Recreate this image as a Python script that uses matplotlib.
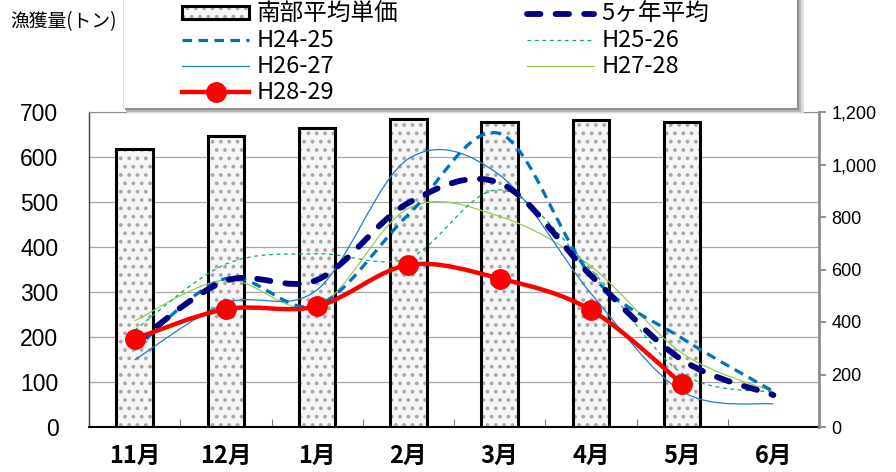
import matplotlib
matplotlib.use('Agg')
import matplotlib.pyplot as plt
import numpy as np
from matplotlib.path import Path
from matplotlib.patches import PathPatch, Rectangle, Patch
from matplotlib.lines import Line2D
from matplotlib.legend_handler import HandlerTuple
from matplotlib.ticker import FuncFormatter, FixedLocator

JP = ['Noto Sans CJK JP', 'DejaVu Sans']
NUM = ['Liberation Sans', 'DejaVu Sans']

# ---------------- data ----------------
months = ['11月', '12月', '1月', '2月', '3月', '4月', '5月', '6月']
price = [1059, 1109, 1139, 1172, 1162, 1168, 1162]          # 南部平均単価 (right axis)
avg5 = [185, 325, 327, 498, 542, 337, 149, 71]              # 5ヶ年平均
h24_25 = [172, 330, 270, 472, 652, 338, 197, 79]
h25_26 = [215, 362, 385, 375, 527, 350, 119, 77]
h26_27 = [149, 275, 305, 596, 560, 297, 79, 51]
h27_28 = [236, 327, 268, 486, 468, 357, 164, 78]
h28_29 = [196, 262, 268, 360, 330, 260, 96]

left_ticks = [0, 100, 200, 300, 400, 500, 600, 700]
right_ticks = [0, 200, 400, 600, 800, 1000, 1200]


def smooth_path(xs, ys):
    pts = np.column_stack([xs, ys]).astype(float)
    n = len(pts)
    verts = [pts[0]]
    codes = [Path.MOVETO]
    for i in range(n - 1):
        p0 = pts[i - 1] if i > 0 else pts[i]
        p1 = pts[i]
        p2 = pts[i + 1]
        p3 = pts[i + 2] if i + 2 < n else pts[i + 1]
        c1 = p1 + (p2 - p0) / 6.0
        c2 = p2 - (p3 - p1) / 6.0
        verts += [c1, c2, p2]
        codes += [Path.CURVE4] * 3
    return Path(verts, codes)


fig = plt.figure(figsize=(8.96, 4.72), dpi=100)
pos = [89 / 896, 1 - 427 / 472, (819 - 89) / 896, (427 - 112) / 472]
ax1 = fig.add_axes(pos)
ax2 = ax1.twinx()
ax3 = fig.add_axes(pos, sharex=ax1, sharey=ax1)
ax3.set_zorder(2)
ax3.patch.set_visible(False)
ax3.axis('off')

x_all = np.arange(len(months))

# ---------------- left axis ----------------
ax1.set_xlim(-0.5, len(months) - 0.5)
ax1.set_ylim(0, 700)
ax1.set_yticks(left_ticks)
ax1.yaxis.grid(True, color='#a6a6a6', lw=0.9)
ax1.set_axisbelow(True)
ax1.tick_params(axis='y', length=0, pad=22, labelsize=16.5)
for lab in ax1.get_yticklabels():
    lab.set_family(NUM)
ax1.set_xticks(x_all)
ax1.set_xticklabels(months, fontfamily=JP, fontsize=17, fontweight='bold')
ax1.xaxis.set_minor_locator(FixedLocator(np.arange(-0.5, len(months), 1.0)))
ax1.tick_params(axis='x', which='major', length=0, pad=12)
ax1.tick_params(axis='x', which='minor', direction='in', length=6, color='#808080', width=0.8)
ax1.spines['left'].set_color('#404040')
ax1.spines['left'].set_linewidth(1.0)
ax1.spines['top'].set_color('#909090')
ax1.spines['bottom'].set_color('black')
ax1.spines['bottom'].set_linewidth(1.5)
ax1.spines['right'].set_visible(False)

# ---------------- right axis (bars) ----------------
ax2.set_ylim(0, 1200)
ax2.set_yticks(right_ticks)
ax2.yaxis.set_major_formatter(FuncFormatter(lambda v, p: f'{int(v):,}'))
ax2.tick_params(axis='y', direction='out', length=5, color='#808080', width=1.2,
                labelsize=13, pad=4)
for lab in ax2.get_yticklabels():
    lab.set_family(NUM)
ax2.spines['right'].set_color('#8c8c8c')
ax2.spines['right'].set_linewidth(2.0)
for s in ['left', 'top', 'bottom']:
    ax2.spines[s].set_visible(False)

plt.rcParams['hatch.linewidth'] = 1.5
xb = np.arange(len(price))
ax2.bar(xb, price, width=0.4, color='#f6f6f6', edgecolor='#a8a8a8', linewidth=0,
        hatch='..', zorder=2)
ax2.bar(xb, price, width=0.4, fill=False, edgecolor='black', linewidth=2.2, zorder=3)

# ---------------- lines ----------------
def add_curve(xs, ys, **kw):
    patch = PathPatch(smooth_path(xs, ys), fill=False, **kw)
    ax3.add_patch(patch)
    return patch

add_curve(x_all, h27_28, edgecolor='#92D050', lw=0.9, zorder=3)
add_curve(x_all, h26_27, edgecolor='#1F7DD0', lw=0.9, zorder=3)
add_curve(x_all, h25_26, edgecolor='#00B050', lw=0.9, linestyle=(0, (3, 3)), zorder=3)
add_curve(x_all, h24_25, edgecolor='#0070C0', lw=2.3, linestyle=(0, (3.0, 2.0)),
          capstyle='butt', zorder=4)
add_curve(x_all, avg5, edgecolor='#000080', lw=4.2, linestyle=(0, (2.3, 2.6)),
          capstyle='round', zorder=5)
xr = np.arange(len(h28_29))
add_curve(xr, h28_29, edgecolor='#FF0000', lw=3.2, capstyle='round', zorder=6)
ax3.plot(xr, h28_29, 'o', color='#FF0000', ms=14, zorder=7)
ax3.set_xlim(-0.5, len(months) - 0.5)
ax3.set_ylim(0, 700)

# ---------------- legend box with soft shadow ----------------
def fig_rect(x0, y0, x1, y1, color, z):
    fig.add_artist(Rectangle((x0 / 896, 1 - y1 / 472), (x1 - x0) / 896, (y1 - y0) / 472,
                             transform=fig.transFigure, facecolor=color,
                             edgecolor='none', zorder=z))

fig_rect(127, -2, 804, 113, '#dcdcdc', 3.0)
fig_rect(126, -2, 801, 111.5, '#b4b4b4', 3.01)
fig_rect(125, -2, 799, 110, '#8e8e8e', 3.02)
fig_rect(123, -2, 797, 108, 'white', 3.1)
fig.add_artist(Line2D([123 / 896, 123 / 896], [1, 1 - 108 / 472], transform=fig.transFigure,
                      color='#e0e0e0', lw=0.8, zorder=3.2))

h_bar = (Patch(facecolor='#f6f6f6', edgecolor='#a8a8a8', lw=0, hatch='..'),
         Patch(fill=False, edgecolor='black', lw=2.2))
h_avg = Line2D([], [], color='#000080', lw=4.2, linestyle=(0, (2.3, 2.6)),
               solid_capstyle='round', dash_capstyle='round')
h_24 = Line2D([], [], color='#0070C0', lw=2.3, linestyle=(0, (3.0, 2.0)))
h_25 = Line2D([], [], color='#00B050', lw=0.9, linestyle=(0, (3, 3)))
h_26 = Line2D([], [], color='#1F7DD0', lw=0.9)
h_27 = Line2D([], [], color='#92D050', lw=0.9)
h_28 = Line2D([], [], color='#FF0000', lw=3.2, marker='o', ms=14)

handles = [h_bar, h_24, h_26, h_28, h_avg, h_25, h_27]
labels = ['南部平均単価', 'H24-25', 'H26-27', 'H28-29', '5ヶ年平均', 'H25-26', 'H27-28']
leg = fig.legend(handles, labels, loc='upper left',
                 bbox_to_anchor=(182 / 896, 1 - 3 / 472), ncol=2, frameon=False,
                 prop={'family': JP, 'size': 17}, handlelength=2.85,
                 handletextpad=0.3, columnspacing=5.45, labelspacing=0.13,
                 borderpad=0.0, borderaxespad=0.0, numpoints=1,
                 handleheight=0.45,
                 handler_map={tuple: HandlerTuple(ndivide=1, pad=0)})
leg.set_zorder(5)

fig.text(10 / 896, 1 - 22 / 472, '漁獲量(トン)', fontfamily=JP, fontsize=13.5,
         va='center', ha='left')

fig.savefig('out.png', dpi=100)
